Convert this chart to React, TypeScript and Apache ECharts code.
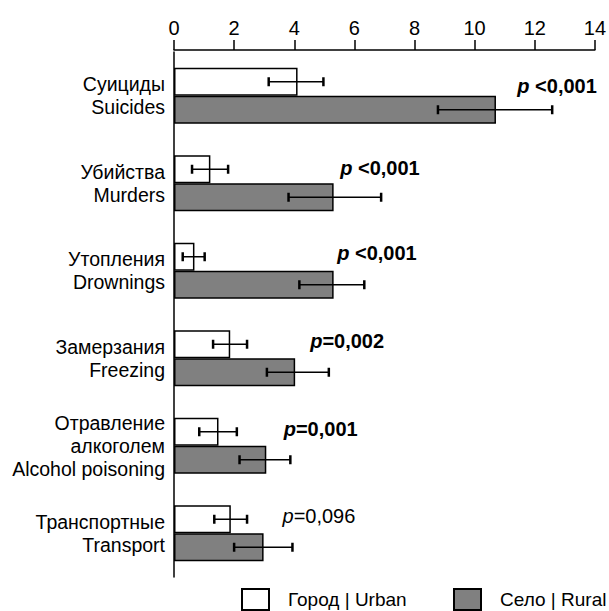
import React, { useEffect, useRef } from "react";
import * as echarts from "echarts";

const categories = [
  "Суициды\nSuicides",
  "Убийства\nMurders",
  "Утопления\nDrownings",
  "Замерзания\nFreezing",
  "Отравление\nалкоголем\nAlcohol poisoning",
  "Транспортные\nTransport",
];
const urbanValues = [4.11, 1.21, 0.68, 1.87, 1.48, 1.89];
const urbanLow = [3.15, 0.6, 0.29, 1.3, 0.84, 1.34];
const urbanHigh = [4.97, 1.8, 1.02, 2.43, 2.09, 2.43];
const ruralValues = [10.71, 5.31, 5.31, 4.03, 3.07, 2.98];
const ruralLow = [8.78, 3.81, 4.17, 3.09, 2.18, 2.0];
const ruralHigh = [12.58, 6.89, 6.33, 5.15, 3.87, 3.94];
const pRest = [" <0,001", " <0,001", " <0,001", "=0,002", "=0,001", "=0,096"];
const pBold = [true, true, true, true, true, false];
// p-label anchor: x in data units, y as a fraction of the category band from its centre
const pLabelAt = [11.42, 5.53, 5.43, 4.53, 3.65, 3.61];
const pLabelRow = [-0.11, -0.18, -0.2, -0.2, -0.19, -0.2];
const xTicks = [0, 2, 4, 6, 8, 10, 12, 14];
const seriesNames = ["Город | Urban", "Село | Rural"];

const BAR_W = 28;
const FONT = "'Liberation Sans', Arial, sans-serif";

function errorSeries(name: string, low: number[], high: number[], side: number) {
  return {
    type: "custom",
    name,
    z: 5,
    silent: true,
    encode: { x: [0, 1], y: 2 },
    data: low.map((l, i) => [l, high[i], i]),
    renderItem: (params: any, api: any) => {
      const a = api.coord([api.value(0), api.value(2)]);
      const b = api.coord([api.value(1), api.value(2)]);
      const y = a[1] + side * (BAR_W / 2);
      const cap = 4.5;
      const st = { stroke: "#000", lineWidth: 1.5 };
      const cst = { stroke: "#000", lineWidth: 2.5 };
      return {
        type: "group",
        children: [
          { type: "line", shape: { x1: a[0], y1: y, x2: b[0], y2: y }, style: st },
          { type: "line", shape: { x1: a[0], y1: y - cap, x2: a[0], y2: y + cap }, style: cst },
          { type: "line", shape: { x1: b[0], y1: y - cap, x2: b[0], y2: y + cap }, style: cst },
        ],
      };
    },
  };
}

const legendBase = {
  top: 588,
  padding: 0,
  icon: "rect",
  itemWidth: 27,
  itemHeight: 21,
  textStyle: { fontSize: 19, fontFamily: FONT, color: "#000", padding: [0, 0, 0, 14] },
};

export default function App() {
  const ref = useRef<HTMLDivElement>(null);
  useEffect(() => {
    const chart = echarts.init(ref.current!, undefined, { renderer: "svg" });
    chart.setOption({
      animation: false,
      backgroundColor: "#fff",
      grid: { left: 174, right: 14, top: 52, bottom: 34, containLabel: false },
      legend: [
        { ...legendBase, data: [seriesNames[0]], left: 241 },
        { ...legendBase, data: [seriesNames[1]], left: 453 },
      ],
      xAxis: {
        type: "value",
        position: "top",
        offset: 2,
        min: xTicks[0],
        max: xTicks[xTicks.length - 1],
        interval: 2,
        splitLine: { show: false },
        axisLine: { show: true, lineStyle: { color: "#000", width: 1.5 } },
        axisTick: { show: true, length: 10, lineStyle: { color: "#000", width: 1.5 } },
        axisLabel: { fontSize: 20, fontFamily: FONT, color: "#000", margin: 12 },
      },
      yAxis: {
        type: "category",
        inverse: true,
        data: categories,
        axisLine: { show: true, lineStyle: { color: "#000", width: 1.5 } },
        axisTick: { show: false },
        axisLabel: {
          fontSize: 19.5,
          fontFamily: FONT,
          color: "#000",
          align: "right",
          margin: 9,
          lineHeight: 23,
        },
      },
      series: [
        {
          type: "bar",
          name: seriesNames[0],
          data: urbanValues,
          barWidth: BAR_W,
          barGap: "0%",
          itemStyle: { color: "#ffffff", borderColor: "#000", borderWidth: 1.5 },
        },
        {
          type: "bar",
          name: seriesNames[1],
          data: ruralValues,
          barWidth: BAR_W,
          barGap: "0%",
          itemStyle: { color: "#808080", borderColor: "#000", borderWidth: 1.5 },
        },
        errorSeries("urbanErr", urbanLow, urbanHigh, -1),
        errorSeries("ruralErr", ruralLow, ruralHigh, 1),
        {
          type: "custom",
          name: "pvalues",
          z: 6,
          silent: true,
          encode: { x: 0, y: 1 },
          data: pLabelAt.map((v, i) => [v, i]),
          renderItem: (params: any, api: any) => {
            const i = params.dataIndex;
            const c = api.coord([api.value(0), api.value(1)]);
            const band = api.size([0, 1])[1];
            const bold = pBold[i];
            return {
              type: "text",
              x: c[0],
              y: c[1] + pLabelRow[i] * band,
              style: {
                text: `{p|p}{r|${pRest[i]}}`,
                align: "left",
                verticalAlign: "middle",
                rich: {
                  p: {
                    fontSize: 20,
                    fontFamily: FONT,
                    fontStyle: "italic",
                    fontWeight: bold ? "bold" : "normal",
                    fill: "#000",
                  },
                  r: {
                    fontSize: 20,
                    fontFamily: FONT,
                    fontWeight: bold ? "bold" : "normal",
                    fill: "#000",
                  },
                },
              },
            };
          },
        },
      ],
    });
    return () => chart.dispose();
  }, []);
  return (
    <div
      ref={ref}
      style={{ position: "fixed", left: 0, top: 0, width: 609, height: 611, background: "#fff" }}
    />
  );
}
